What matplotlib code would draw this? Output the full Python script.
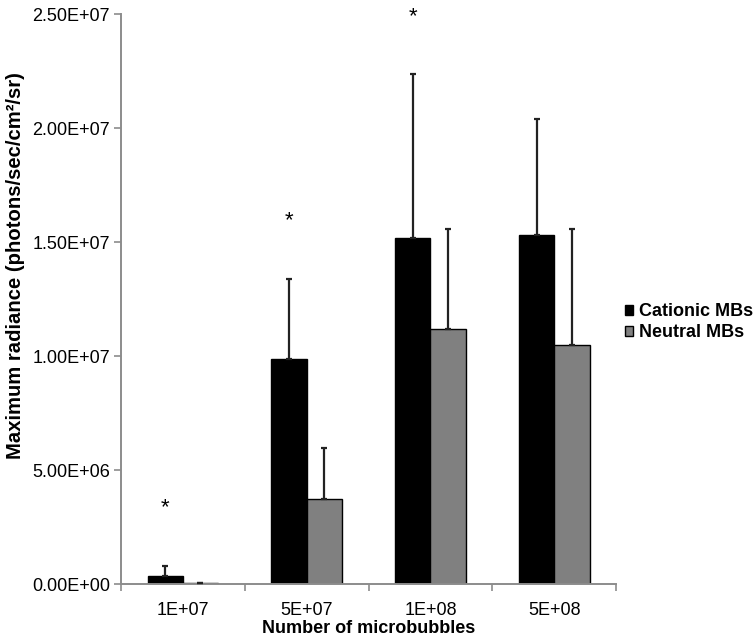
import matplotlib
matplotlib.use("Agg")
import matplotlib.pyplot as plt
import numpy as np

plt.rcParams['font.family'] = ['Liberation Sans', 'DejaVu Sans']

categories = ["1E+07", "5E+07", "1E+08", "5E+08"]
series_names = ["Cationic MBs", "Neutral MBs"]
cationic = [0.35e6, 9.89e6, 15.2e6, 15.3e6]
cationic_err = [0.45e6, 3.5e6, 7.2e6, 5.1e6]
neutral = [0.03e6, 3.72e6, 11.19e6, 10.5e6]
neutral_err = [0.0, 2.26e6, 4.4e6, 5.1e6]
star_y = [3.33e6, 15.93e6, 24.9e6]   # asterisks over cationic bars of first three groups
yticks = [0, 5e6, 10e6, 15e6, 20e6, 25e6]

fig = plt.figure(figsize=(7.56, 6.42), dpi=100)
ax = fig.add_axes([0.160, 0.0903, 0.655, 0.8874])

x = np.arange(len(categories))
w = 0.285
gray_edge = '#8c8c8c'
ax.bar(x - w/2, cationic, w, color='black', edgecolor='black', linewidth=1.0,
       label=series_names[0], zorder=2)
ax.bar(x + w/2, neutral, w, color='#808080', edgecolor='black', linewidth=1.0,
       label=series_names[1], zorder=2)
ax.errorbar(x - w/2, cationic, yerr=[np.zeros(4), cationic_err], fmt='none',
            ecolor='#222222', elinewidth=1.6, capsize=2, capthick=1.6, zorder=3)
ax.errorbar(x + w/2, neutral, yerr=[np.zeros(4), neutral_err], fmt='none',
            ecolor='#222222', elinewidth=1.6, capsize=2, capthick=1.6, zorder=3)

for i, sy in enumerate(star_y):
    ax.text(x[i] - w/2, sy, '*', ha='center', va='center', fontsize=16, color='black')

ax.set_xlim(-0.5, 3.5)
ax.set_ylim(0, 25e6)
ax.set_yticks(yticks)
ax.set_yticklabels([f"{v:.2E}" for v in yticks], fontsize=13)
ax.set_xticks(np.arange(-0.5, 4.0, 1.0))
ax.set_xticklabels([])
ax.set_xticks(x, minor=True)
ax.set_xticklabels(categories, minor=True, fontsize=13)
ax.tick_params(axis='x', which='minor', length=0, pad=13)
ax.tick_params(axis='both', which='major', direction='out', length=5, color=gray_edge, width=1.2)
ax.tick_params(axis='y', pad=3)

for s in ['top', 'right']:
    ax.spines[s].set_visible(False)
for s in ['left', 'bottom']:
    ax.spines[s].set_color(gray_edge)
    ax.spines[s].set_linewidth(1.4)

ax.set_xlabel("Number of microbubbles", fontsize=13, fontweight='bold', labelpad=1)
fig.text(0.0205, 0.5865, "Maximum radiance (photons/sec/cm²/sr)", rotation=90,
         ha='center', va='center', fontsize=14.6, fontweight='bold')

fig.legend(loc='center left', bbox_to_anchor=(0.8267, 0.498), frameon=False,
           prop={'weight': 'bold', 'size': 13}, handlelength=0.45, handleheight=0.45,
           handletextpad=0.33, labelspacing=0.2, borderpad=0.0, borderaxespad=0.0)

fig.savefig("out.png", dpi=100, facecolor='white')
